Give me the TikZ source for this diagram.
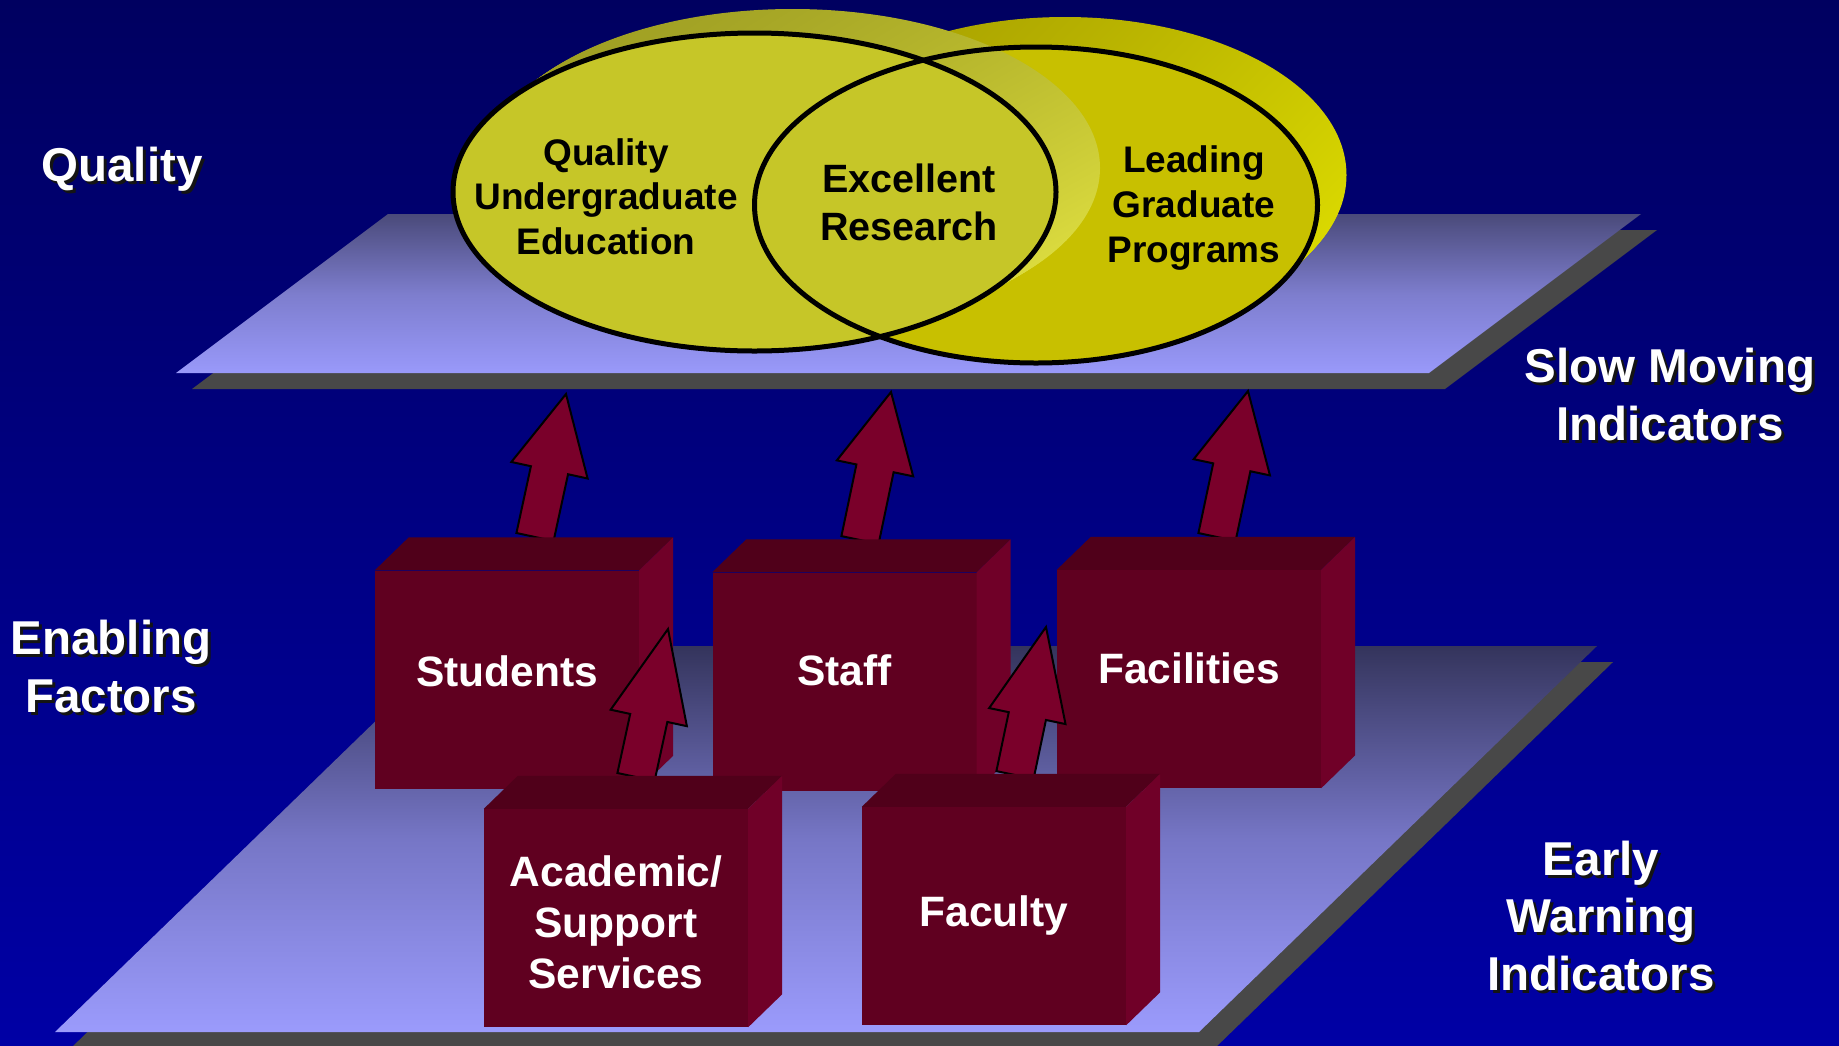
\documentclass[tikz,border=0pt]{standalone}
\usepackage{fontspec}
\setmainfont{Liberation Sans}
\usetikzlibrary{calc,shadings}

\definecolor{bgtop}{RGB}{0,0,96}
\definecolor{bgbottom}{RGB}{0,0,165}
\definecolor{planetop}{RGB}{74,74,122}
\definecolor{planemid}{RGB}{125,125,205}
\definecolor{planebottom}{RGB}{153,153,250}
\definecolor{floortop}{RGB}{52,52,92}
\definecolor{floormid}{RGB}{118,118,198}
\definecolor{floorbottom}{RGB}{155,155,252}
\definecolor{planeshadow}{RGB}{72,72,72}
\definecolor{ugfront}{RGB}{198,198,40}
\definecolor{ugul}{RGB}{150,150,32}
\definecolor{ugur}{RGB}{185,185,45}
\definecolor{ugll}{RGB}{190,190,40}
\definecolor{uglr}{RGB}{232,232,70}
\definecolor{gradfront}{RGB}{200,192,0}
\definecolor{gdul}{RGB}{160,152,0}
\definecolor{gdur}{RGB}{200,196,0}
\definecolor{gdll}{RGB}{195,188,0}
\definecolor{gdlr}{RGB}{228,228,0}
\definecolor{boxfront}{RGB}{96,0,32}
\definecolor{boxtop}{RGB}{80,0,26}
\definecolor{boxside}{RGB}{112,0,40}
\definecolor{arrowred}{RGB}{122,0,42}
\definecolor{textshadow}{RGB}{20,20,20}

\newcommand\labelfont{\fontsize{47.5}{57.5}\selectfont\bfseries}
\newcommand\boxfont{\fontsize{42.5}{51}\selectfont\bfseries}
\newcommand\vennfont{\fontsize{37}{44.6}\selectfont\bfseries}

% centred lines, optionally raised without changing the box size
\newcommand\textstack[2][0pt]{\raisebox{#1}[\height][\depth]{\begin{tabular}{@{}c@{}}#2\end{tabular}}}
\newcommand\shadowed[1]{\rlap{\kern3pt\raisebox{-3pt}[0pt][0pt]{\color{textshadow}\textstack{#1}}}\textstack{#1}}

% top and right faces of a block
\newcommand\boxfaces[1]{%
  \fill[boxtop] (#1.north west) -- ++(34,-33) -- ($(#1.north east)+(34,-33)$) -- (#1.north east) -- cycle;
  \fill[boxside] (#1.north east) -- ++(34,-33) -- ($(#1.south east)+(34,-33)$) -- (#1.south east) -- cycle;}

% broad arrow from foot to tip, optional head length
\newcommand\liftarrow[3][78pt]{%
  \filldraw[lift] ($(#2)!19pt!90:(#3)$)
    -- ($(#3)!#1!(#2)!19pt!-90:(#2)$)
    -- ($(#3)!#1!(#2)!39pt!-90:(#2)$)
    -- (#3)
    -- ($(#3)!#1!(#2)!39pt!90:(#2)$)
    -- ($(#3)!#1!(#2)!19pt!90:(#2)$)
    -- ($(#2)!19pt!-90:(#3)$) -- cycle;}

\begin{document}
\begin{tikzpicture}[x=1pt, y=-1pt,
    plane/.style ={top color=planetop, bottom color=planebottom, middle color=planemid},
    floor/.style ={top color=floortop, bottom color=floorbottom, middle color=floormid},
    factor/.style ={fill=boxfront, minimum width=264pt, minimum height=218pt,
                    inner sep=0pt, text=white, font=\boxfont},
    tag/.style ={text=white, font=\labelfont, inner sep=0pt},
    venntext/.style ={text=black, inner sep=0pt},
    vennline/.style ={draw=black, line width=5pt},
    lift/.style ={fill=arrowred, draw=black, line width=2pt}]
   \useasboundingbox (0,0) rectangle (1839,1045);
   \shade[top color=bgtop, bottom color=bgbottom] (0,0) rectangle (1839,1045);

   % the two planes
   \fill[planeshadow, shift={(16,16)}] (176,373) -- (388,214) -- (1641,214) -- (1429,373) -- cycle;
   \shade[plane] (176,373) -- (388,214) -- (1641,214) -- (1429,373) -- cycle;
   \fill[planeshadow, shift={(16,16)}] (55,1032) -- (453,646) -- (1597,646) -- (1199,1032) -- cycle;
   \shade[floor] (55,1032) -- (453,646) -- (1597,646) -- (1199,1032) -- cycle;

   % venn cylinders
   \foreach \k in {30,...,1}
      \shade[upper left=gdul, upper right=gdur, lower left=gdll, lower right=gdlr]
         (1036+\k*29/30, 205-\k) ellipse [x radius=281.5pt, y radius=158pt];
   \fill[gradfront] (1036,205) ellipse [x radius=281.5pt, y radius=158pt];
   \foreach \k in {24,...,1}
      \shade[upper left=ugul, upper right=ugur, lower left=ugll, lower right=uglr]
         (754.5+\k*38/24, 192-\k) ellipse [x radius={301.5pt+\k*0.25pt}, y radius=159pt];
   \fill[ugfront] (754.5,192) ellipse [x radius=301.5pt, y radius=159pt];
   \draw[vennline] (1036,205) ellipse [x radius=281.5pt, y radius=158pt];
   \draw[vennline] (754.5,192) ellipse [x radius=301.5pt, y radius=159pt];

   \node[venntext, font=\vennfont] (ugrad) at (606,201) {\textstack{Quality\\Undergraduate\\Education}};
   \node[venntext, font=\fontsize{39.5}{47.3}\selectfont\bfseries] (research) at (909,207) {\textstack{Excellent\\Research}};
   \node[venntext, font=\vennfont] (grad) at (1194,208.5) {\textstack{Leading\\Graduate\\Programs}};

   % side labels
   \node[tag] (quality) at (122,170) {\shadowed{Quality}};
   \node[tag] (slow) at (1670,400) {\shadowed{Slow Moving\\Indicators}};
   \node[tag] (enabling) at (111,672) {\shadowed{Enabling\\Factors}};
   \node[tag] (early) at (1601,921) {\shadowed{Early\\Warning\\Indicators}};

   % upper row
   \coordinate (studentsfoot) at (535,537);   \coordinate (studentstip) at (566,394);
   \coordinate (stafffoot) at (860,540);      \coordinate (stafftip) at (891,392);
   \coordinate (facilitiesfoot) at (1217,537); \coordinate (facilitiestip) at (1248,391);
   \liftarrow{studentsfoot}{studentstip}
   \liftarrow{stafffoot}{stafftip}
   \liftarrow{facilitiesfoot}{facilitiestip}

   \node[factor] (students) at (507,679.5) {\textstack[3pt]{Students}};
   \boxfaces{students}
   \node[factor] (staff) at (844.5,681.5) {\textstack[6pt]{Staff}};
   \boxfaces{staff}
   \node[factor] (facilities) at (1189,679) {\textstack[6pt]{Facilities}};
   \boxfaces{facilities}

   % lower row
   \coordinate (supportfoot) at (636,777);  \coordinate (supporttip) at (668,629);
   \coordinate (facultyfoot) at (1015,775); \coordinate (facultytip) at (1046,627);
   \liftarrow[91pt]{supportfoot}{supporttip}
   \liftarrow[91pt]{facultyfoot}{facultytip}

   \node[factor] (support) at (616,918) {\textstack[-9pt]{Academic/\\Support\\Services}};
   \boxfaces{support}
   \node[factor] (faculty) at (994,916) {\textstack{Faculty}};
   \boxfaces{faculty}

\end{tikzpicture}
\end{document}
